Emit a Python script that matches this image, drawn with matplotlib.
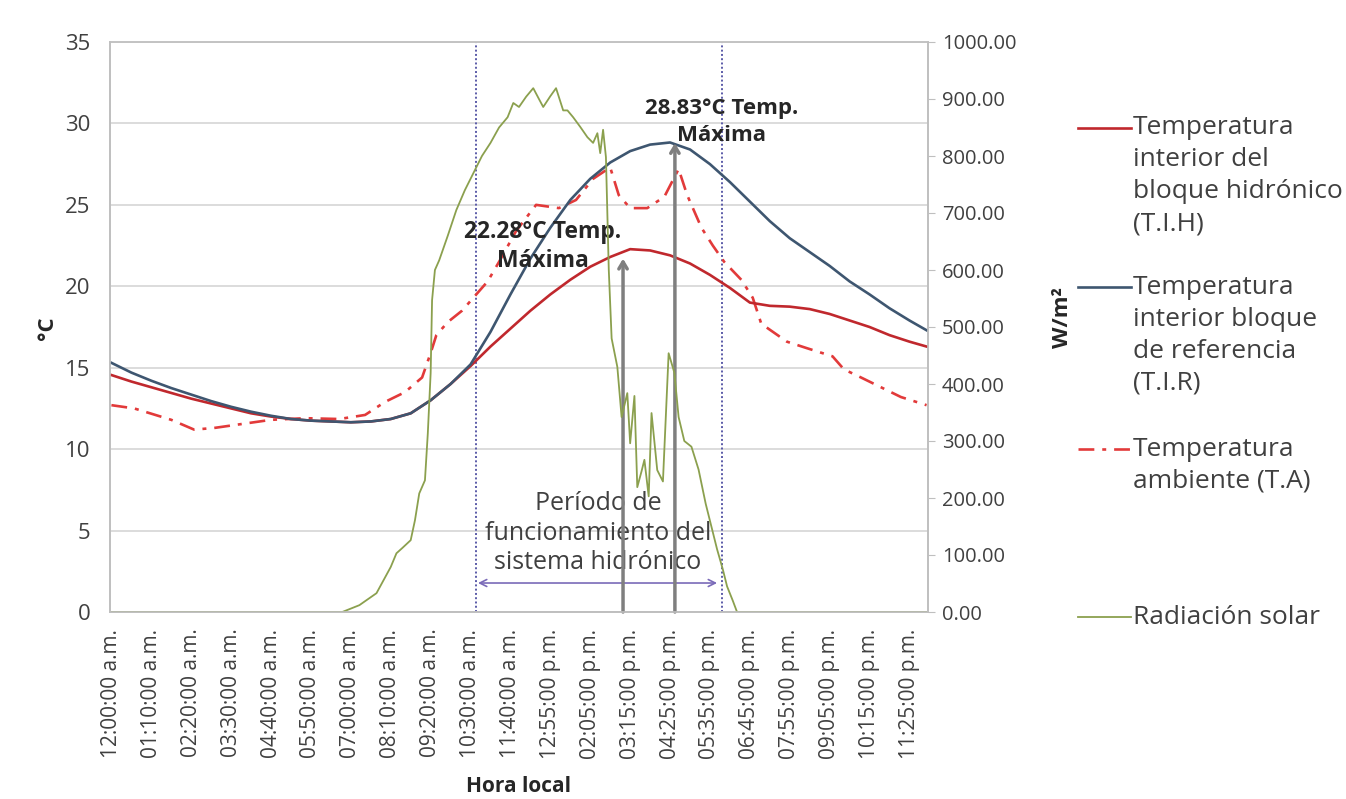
import numpy as np
import matplotlib.pyplot as plt
from matplotlib.lines import Line2D
from matplotlib.ticker import FormatStrFormatter

plt.rcParams['font.family'] = ['Open Sans', 'DejaVu Sans']

# 5-minute records, one label every 14 records
hour_labels = ["12:00:00 a.m.", "01:10:00 a.m.", "02:20:00 a.m.", "03:30:00 a.m.",
               "04:40:00 a.m.", "05:50:00 a.m.", "07:00:00 a.m.", "08:10:00 a.m.",
               "09:20:00 a.m.", "10:30:00 a.m.", "11:40:00 a.m.", "12:55:00 p.m.",
               "02:05:00 p.m.", "03:15:00 p.m.", "04:25:00 p.m.", "05:35:00 p.m.",
               "06:45:00 p.m.", "07:55:00 p.m.", "09:05:00 p.m.", "10:15:00 p.m.",
               "11:25:00 p.m."]
n_records = 287

# temperatures read every 7 records (record index)
t_idx = [0, 7, 14, 21, 28, 35, 42, 49, 56, 63, 70, 77, 84, 91, 98, 105, 112, 119,
         126, 133, 140, 147, 154, 161, 168, 175, 182, 189, 196, 203, 210, 217, 224,
         231, 238, 245, 252, 259, 266, 273, 280, 286]
tih = [14.55, 14.15, 13.8, 13.45, 13.1, 12.8, 12.5, 12.2, 12.0, 11.85,
       11.75, 11.7, 11.65, 11.7, 11.85, 12.2, 13.0, 14.0, 15.1, 16.3,
       17.4, 18.5, 19.5, 20.4, 21.2, 21.8, 22.28, 22.2, 21.9, 21.4,
       20.7, 19.9, 19.0, 18.8, 18.75, 18.6, 18.3, 17.9, 17.5, 17.0,
       16.6, 16.3]
tir = [15.3, 14.7, 14.2, 13.75, 13.35, 12.95, 12.6, 12.3, 12.05, 11.85,
       11.75, 11.7, 11.65, 11.7, 11.85, 12.2, 13.0, 14.0, 15.2, 17.2,
       19.5, 21.7, 23.6, 25.3, 26.6, 27.6, 28.3, 28.7, 28.83, 28.4,
       27.5, 26.4, 25.2, 24.0, 22.95, 22.1, 21.25, 20.3, 19.5, 18.65,
       17.9, 17.3]

ta_idx = [0, 8, 21, 29, 36, 48, 56, 68, 80, 89, 96, 103, 109, 112, 114, 118, 123,
          132, 136, 142, 149, 157, 163, 169, 175, 178, 182, 188, 194, 199, 202,
          207, 211, 215, 221, 225, 228, 237, 244, 253, 257, 263, 270, 277, 286]
ta = [12.7, 12.5, 11.8, 11.2, 11.3, 11.6, 11.8, 11.9, 11.85, 12.1,
      12.9, 13.5, 14.4, 15.9, 17.0, 17.8, 18.5, 20.3, 21.5, 23.4,
      25.0, 24.8, 25.3, 26.6, 27.3, 25.6, 24.8, 24.8, 25.5, 27.2,
      25.6, 23.6, 22.5, 21.5, 20.4, 19.3, 17.7, 16.6, 16.2, 15.7,
      14.9, 14.4, 13.8, 13.2, 12.7]

rad_idx = [0, 81, 87, 93, 98, 100, 102, 105, 106.5, 108,
           110, 111, 112, 112.5, 113.5, 115, 118, 121, 124, 127,
           130, 133, 136, 139, 141, 143, 145.5, 148, 150, 151.5,
           154, 156, 158.5, 160, 162, 164.5, 167, 169, 170.5, 171.5,
           172.5, 173.5, 174.5, 175.5, 177.5, 179, 181, 182, 183.5, 184.5,
           186, 187, 188.5, 189.5, 191.5, 193.5, 195.5, 197.5, 199, 201,
           203.5, 206, 208.5, 211, 212.5, 214.5, 216, 218, 219.5, 286]
rad = [0, 0, 12, 33, 79, 103, 112, 126, 161, 208,
       231, 313, 419, 547, 600, 617, 660, 705, 740, 770,
       800, 823, 850, 868, 893, 886, 904, 919, 900, 886,
       905, 919, 880, 880, 868, 851, 833, 823, 840, 805,
       846, 798, 600, 480, 430, 342, 384, 296, 379, 219,
       247, 267, 203, 349, 249, 229, 454, 420, 342, 300,
       290, 250, 190, 140, 110, 75, 45, 20, 0, 0]

# hydronic system period and maxima markers (record index / value)
period = (127.9, 214.2)
max_tih = (179.5, 22.28)
max_tir = (197.7, 28.83)

W, H = 1346, 799
fig = plt.figure(figsize=(W / 100, H / 100), dpi=100)
ax = fig.add_axes([110 / W, 1 - 612 / H, 818 / W, 570 / H])
ax2 = ax.twinx()

c_tih = '#C0282D'
c_tir = '#3E5670'
c_ta = '#E23A3A'
c_rad = '#8BA04E'
grey_txt = '#404040'

ax.plot(t_idx, tih, color=c_tih, lw=1.9, zorder=4)
ax.plot(t_idx, tir, color=c_tir, lw=1.9, zorder=4)
ax.plot(ta_idx, ta, color=c_ta, lw=1.9, linestyle=(0, (6, 3, 1.5, 3)), zorder=3)
ax2.plot(rad_idx, rad, color=c_rad, lw=1.3)

ax.set_xlim(-0.5, n_records - 0.5)
ax.set_ylim(0, 35)
ax2.set_ylim(0, 1000)
ax.set_yticks(np.arange(0, 36, 5))
ax2.set_yticks(np.arange(0, 1001, 100))
ax2.yaxis.set_major_formatter(FormatStrFormatter('%.2f'))
ax.set_xticks(np.arange(len(hour_labels)) * 14)
ax.set_xticklabels(hour_labels, rotation=90)

ax.yaxis.grid(True, color='#D9D9D9', lw=1.3)
ax.set_axisbelow(True)
for a in (ax, ax2):
    for s in a.spines.values():
        s.set_color('#BFBFBF')
        s.set_linewidth(1.2)
ax.spines['top'].set_color('#D9D9D9')
ax.tick_params(axis='y', length=0, pad=14, labelsize=16, labelcolor=grey_txt)
ax.tick_params(axis='x', length=0, pad=12, labelsize=15, labelcolor=grey_txt)
ax2.tick_params(axis='y', length=5, color='#BFBFBF', pad=5, labelsize=14.5,
                labelcolor=grey_txt)

# vertical period limits
for xv in period:
    ax.axvline(xv, color='#5B5BA8', lw=1.4, linestyle=(0, (1, 1.2)), zorder=2)
ax.annotate('', xy=(212.5, 1.78), xytext=(128.6, 1.78),
            arrowprops=dict(arrowstyle='<->,head_length=0.5,head_width=0.25',
                            color='#7A6AB8', lw=1.2, shrinkA=0, shrinkB=0))
ax.text(170.7, 4.85, 'Período de\nfuncionamiento del\nsistema hidrónico',
        ha='center', va='center', fontsize=18, color=grey_txt, linespacing=1.22,
        zorder=5)

# maxima arrows
ax.annotate('', xy=(max_tih[0], 21.7), xytext=(max_tih[0], 0),
            arrowprops=dict(arrowstyle='->,head_length=0.5,head_width=0.3',
                            color='#7F7F7F', lw=2.5, shrinkA=0, shrinkB=0), zorder=5)
ax.annotate('', xy=(max_tir[0], 28.8), xytext=(max_tir[0], 0),
            arrowprops=dict(arrowstyle='->,head_length=0.5,head_width=0.3',
                            color='#7F7F7F', lw=2.5, shrinkA=0, shrinkB=0), zorder=5)
ax.text(151.4, 22.44, f'{max_tih[1]:.2f}°C Temp.\nMáxima', ha='center', va='center',
        fontsize=16.5, fontweight='bold', color='#262626', linespacing=1.3, zorder=6)
ax.text(214.2, 30.08, f'{max_tir[1]:.2f}°C Temp.\nMáxima', ha='center', va='center',
        fontsize=16, fontweight='bold', color='#262626', linespacing=1.35, zorder=6)

# axis titles
fig.text(47 / W, 1 - 328 / H, '°C', rotation=90, ha='center', va='center',
         fontsize=16, fontweight='bold', color='#262626')
fig.text(1063 / W, 1 - 318 / H, 'W/m²', rotation=90, ha='center', va='center',
         fontsize=16, fontweight='bold', color='#262626')
fig.text(519 / W, 1 - 787 / H, 'Hora local', ha='center', va='center',
         fontsize=15, fontweight='bold', color='#262626')

# legend drawn at the right, handle next to first text line
legend_items = [
    (dict(color=c_tih, lw=1.9), ['Temperatura', 'interior del', 'bloque hidrónico', '(T.I.H)'], 128),
    (dict(color=c_tir, lw=1.9), ['Temperatura', 'interior bloque', 'de referencia', '(T.I.R)'], 287),
    (dict(color=c_ta, lw=1.9, linestyle=(0, (6, 3, 1.5, 3))), ['Temperatura', 'ambiente (T.A)'], 449),
    (dict(color=c_rad, lw=1.3), ['Radiación solar'], 617),
]
for style, lines, y0 in legend_items:
    fy = 1 - y0 / H
    fig.add_artist(Line2D([1078 / W, 1131 / W], [fy, fy], transform=fig.transFigure, **style))
    for i, txt in enumerate(lines):
        fig.text(1133 / W, 1 - (y0 + i * 32) / H, txt, ha='left', va='center',
                 fontsize=19, color=grey_txt)

fig.savefig('out.png', dpi=100)
